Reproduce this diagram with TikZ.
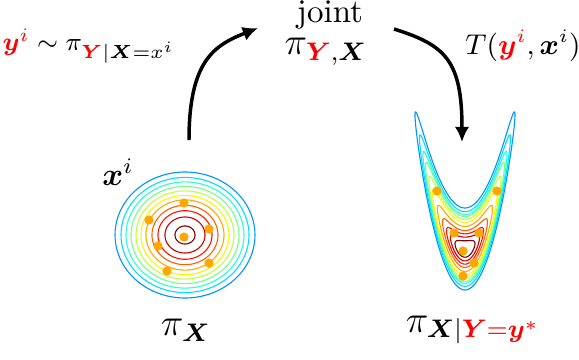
\documentclass[tikz,border=0pt]{standalone}
\usepackage{amsmath,bm}
\usetikzlibrary{arrows.meta}
\definecolor{c0}{rgb}{0.5,0,0}
\definecolor{c1}{rgb}{0.79,0,0}
\definecolor{c2}{rgb}{1,0.08,0}
\definecolor{c3}{rgb}{1,0.38,0}
\definecolor{c4}{rgb}{1,0.67,0}
\definecolor{c5}{rgb}{1,0.96,0}
\definecolor{c6}{rgb}{0.75,1,0.25}
\definecolor{c7}{rgb}{0.46,1,0.54}
\definecolor{c8}{rgb}{0.16,1,0.84}
\definecolor{c9}{rgb}{0,0.87,1}
\definecolor{c10}{rgb}{0,0.58,1}
\definecolor{dotorange}{rgb}{1,0.65,0}
\begin{document}
\begin{tikzpicture}[x=0.315pt,y=-0.315pt,
  contour/.style={line width=0.35pt},
  dot/.style={circle,fill=dotorange,inner sep=0pt,minimum size=2.9pt},
  lbl/.style={inner sep=0pt},
  big/.style={font=\fontsize{12}{14}\selectfont},
  small/.style={font=\fontsize{8.4}{10}\selectfont},
  flow/.style={line width=1.1pt,-{Latex[length=4.8pt,width=4.6pt]}}]
\useasboundingbox (0,0) rectangle (579,360);

% left gaussian contours
\foreach \r/\c in {10/c0,20/c1,27/c2,33/c3,39/c4,44/c5,49/c6,54/c7,59/c8,64/c9,70/c10}
  \draw[contour,\c] plot[smooth cycle,domain=0:356,samples=90]
    ({185+\r*cos(\x)},{235+0.9*\r*sin(\x)});

% right banana contours
\foreach \R/\c in {0.2/c0,0.29/c1,0.37/c2,0.45/c3,0.55/c4,0.65/c5,0.72/c6,0.79/c7,0.84/c8,0.91/c9,1.0/c10}
  \draw[contour,\c] plot[smooth cycle,domain=0:358,samples=180]
    ({465+50*\R*sin(\x)},{249-134*\R*\R*sin(\x)*sin(\x)-41*\R*cos(\x)});

% samples
\foreach \p [count=\k] in {(184,203),(149,220),(209,229),(184,237),(158,246),(209,263),(167,271)}
  \node[dot] (l\k) at \p {};
\foreach \p [count=\k] in {(437,191),(497,191),(454,233),(479,233),(463,251),(474,263),(463,276)}
  \node[dot] (r\k) at \p {};

% labels
\node[lbl,font=\fontsize{10.4}{12}\selectfont] (joint) at (330,15) {joint};
\node[lbl,big] (pyx) at (326,52) {$\pi_{\textcolor{red}{\bm{Y}},\bm{X}}$};
\node[lbl,small] (lleft) at (89,46) {$\textcolor{red}{\bm{y}^i} \sim \pi_{\textcolor{red}{\bm{Y}}|\bm{X}=x^i}$};
\node[lbl,font=\fontsize{9.2}{11}\selectfont] (lright) at (523,46) {$T(\textcolor{red}{\bm{y}^i},\bm{x}^i)$};
\node[lbl,font=\fontsize{9.6}{11}\selectfont] (xi) at (118,172) {$\bm{x}^i$};
\node[lbl,big] (px) at (186,330) {$\pi_{\bm{X}}$};
\node[lbl,big] (pxy) at (473,330) {$\pi_{\bm{X}|\textcolor{red}{\bm{Y}=\bm{y}^*}}$};

% arrows
\coordinate (a1s) at (189,140);
\coordinate (a1e) at (258,28);
\coordinate (a2s) at (394,29);
\coordinate (a2e) at (462,142);
\draw[flow] (a1s) .. controls (189,60) and (215,45) .. (a1e);
\draw[flow] (a2s) .. controls (445,45) and (462,60) .. (a2e);
\end{tikzpicture}
\end{document}
